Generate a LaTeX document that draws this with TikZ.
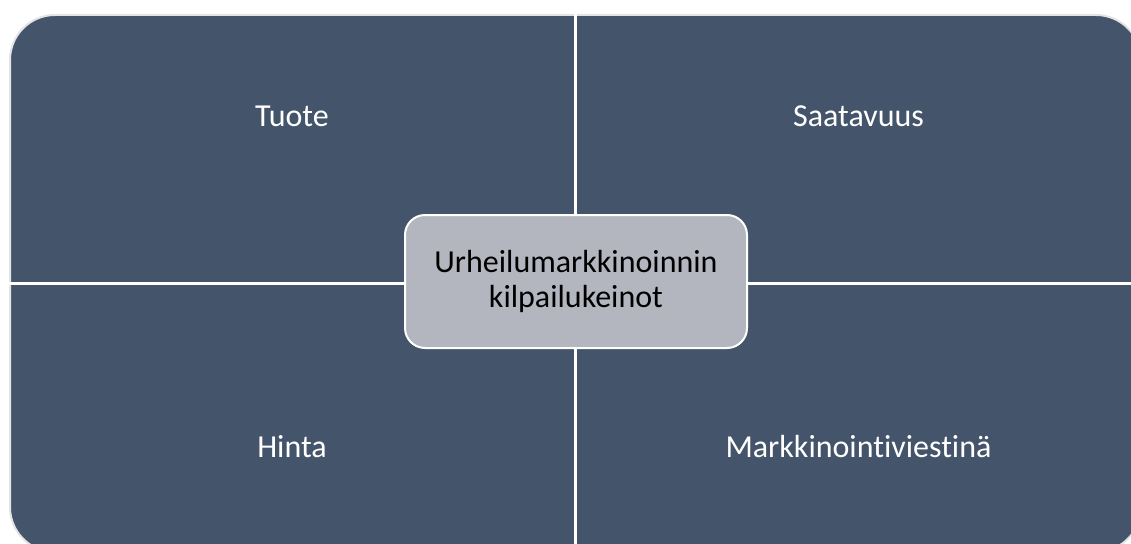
\documentclass[tikz,border=0pt]{standalone}
\usepackage{fontspec}
\setmainfont{Carlito}[RawFeature={-liga}]
\definecolor{slate}{HTML}{44546A}
\definecolor{centerfill}{HTML}{B3B6BE}
\definecolor{edgegray}{HTML}{E4E4E4}
\tikzset{
  quadtext/.style={text=white, font=\fontsize{32}{36}\selectfont, anchor=center},
  centerbox/.style={draw=white, line width=2pt, fill=centerfill, rounded corners=20pt,
    minimum width=342pt, minimum height=133pt, align=center, text=black,
    font=\fontsize{32}{35}\selectfont, inner sep=0pt},
  gap/.style={draw=white, line width=3pt}
}
\begin{document}
\begin{tikzpicture}[x=1pt,y=-1pt]
\useasboundingbox (0,0) rectangle (1131,543);
\begin{scope}
\clip (0,0) rectangle (1131,543);
\draw[edgegray, line width=2pt, fill=slate, rounded corners=45pt] (10,15) rectangle (1141,552);
\coordinate (vt) at (575.5,14);
\coordinate (vb) at (575.5,553);
\coordinate (hl) at (9,283.5);
\coordinate (hr) at (1142,283.5);
\draw[gap] (vt) -- (vb);
\draw[gap] (hl) -- (hr);
\end{scope}
\node[quadtext] (tuote) at (292,116) {Tuote};
\node[quadtext] (saat) at (858.5,116) {Saatavuus};
\node[quadtext] (hinta) at (292,447) {Hinta};
\node[quadtext] (mark) at (858.5,447) {Markkinointiviestinä};
\node[centerbox] (center) at (576,281.5) {Urheilumarkkinoinnin\\kilpailukeinot};
\end{tikzpicture}
\end{document}
